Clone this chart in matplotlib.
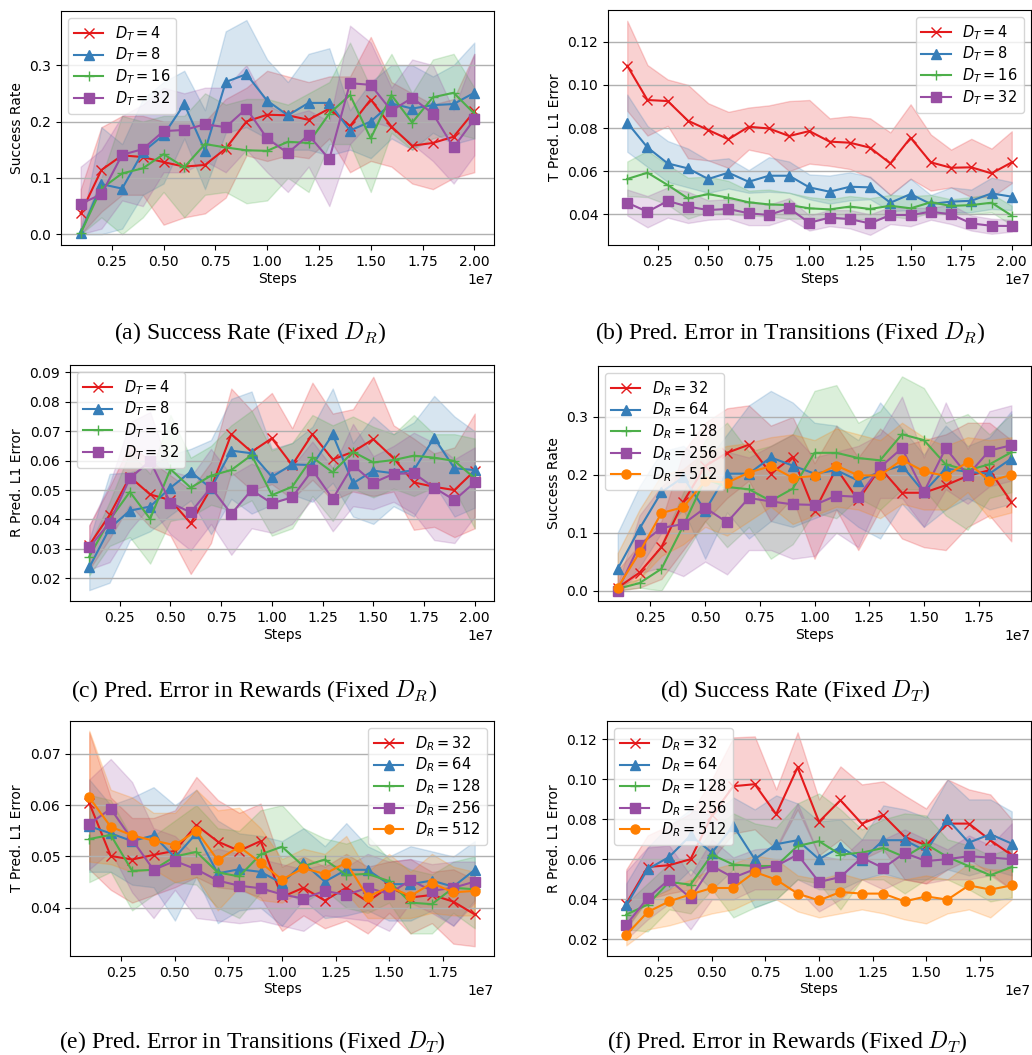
import numpy as np
import matplotlib
matplotlib.use('Agg')
import matplotlib.pyplot as plt
from matplotlib.ticker import MultipleLocator

# x values (steps)
steps20 = [i * 1e6 for i in range(1, 21)]
steps19 = [i * 1e6 for i in range(1, 20)]

dt_labels = ['$D_T = 4$', '$D_T = 8$', '$D_T = 16$', '$D_T = 32$']
dr_labels = ['$D_R = 32$', '$D_R = 64$', '$D_R = 128$', '$D_R = 256$', '$D_R = 512$']

# (a) success rate, fixed D_R
a_mean = [
    [0.037, 0.114, 0.14, 0.137, 0.128, 0.12, 0.123, 0.152, 0.2, 0.212, 0.211, 0.203, 0.223, 0.192, 0.239, 0.191, 0.157, 0.162, 0.173, 0.218],
    [0.002, 0.089, 0.081, 0.146, 0.176, 0.231, 0.148, 0.27, 0.284, 0.237, 0.211, 0.233, 0.233, 0.184, 0.2, 0.232, 0.223, 0.229, 0.231, 0.251],
    [0.002, 0.081, 0.108, 0.117, 0.142, 0.119, 0.16, 0.154, 0.149, 0.148, 0.164, 0.162, 0.214, 0.247, 0.17, 0.247, 0.198, 0.243, 0.251, 0.214],
    [0.054, 0.071, 0.141, 0.151, 0.183, 0.185, 0.195, 0.19, 0.223, 0.17, 0.144, 0.176, 0.133, 0.268, 0.265, 0.219, 0.242, 0.214, 0.154, 0.204],
]
a_hi = [
    [0.08, 0.19, 0.21, 0.21, 0.2, 0.2, 0.2, 0.24, 0.26, 0.29, 0.28, 0.27, 0.28, 0.28, 0.35, 0.27, 0.25, 0.23, 0.24, 0.32],
    [0.01, 0.19, 0.16, 0.24, 0.27, 0.29, 0.22, 0.36, 0.38, 0.31, 0.27, 0.32, 0.33, 0.22, 0.27, 0.3, 0.3, 0.28, 0.3, 0.34],
    [0.01, 0.1, 0.21, 0.2, 0.21, 0.21, 0.25, 0.23, 0.24, 0.24, 0.23, 0.25, 0.27, 0.34, 0.26, 0.32, 0.25, 0.31, 0.32, 0.26],
    [0.12, 0.15, 0.21, 0.23, 0.26, 0.25, 0.26, 0.26, 0.3, 0.23, 0.21, 0.22, 0.2, 0.37, 0.34, 0.26, 0.31, 0.3, 0.22, 0.32],
]
a_lo = [
    [0.0, 0.04, 0.07, 0.07, 0.017, 0.03, 0.037, 0.065, 0.14, 0.13, 0.14, 0.135, 0.17, 0.11, 0.13, 0.12, 0.09, 0.08, 0.1, 0.11],
    [0.0, 0.0, 0.01, 0.07, 0.09, 0.17, 0.08, 0.18, 0.19, 0.17, 0.15, 0.15, 0.14, 0.15, 0.135, 0.17, 0.15, 0.18, 0.16, 0.17],
    [0.0, 0.03, 0.0, 0.03, 0.075, 0.03, 0.07, 0.075, 0.055, 0.06, 0.1, 0.075, 0.16, 0.16, 0.075, 0.18, 0.15, 0.17, 0.18, 0.17],
    [0.0, 0.01, 0.06, 0.05, 0.11, 0.11, 0.13, 0.11, 0.15, 0.11, 0.075, 0.12, 0.05, 0.16, 0.2, 0.19, 0.16, 0.13, 0.09, 0.14],
]

# (b) transition prediction error, fixed D_R
b_mean = [
    [0.1089, 0.093, 0.0925, 0.0834, 0.0791, 0.0748, 0.0806, 0.0798, 0.0763, 0.0786, 0.0737, 0.0732, 0.0709, 0.0636, 0.0755, 0.0641, 0.0616, 0.0618, 0.059, 0.0641],
    [0.0825, 0.071, 0.0636, 0.0613, 0.0564, 0.0593, 0.0551, 0.0579, 0.0579, 0.0525, 0.0505, 0.0528, 0.0525, 0.0454, 0.0494, 0.0448, 0.0459, 0.0463, 0.0497, 0.0482],
    [0.0564, 0.0593, 0.0536, 0.0474, 0.0494, 0.0477, 0.0456, 0.0446, 0.0443, 0.0428, 0.0423, 0.0436, 0.0425, 0.044, 0.0428, 0.0456, 0.0439, 0.0443, 0.0454, 0.0394],
    [0.0454, 0.0412, 0.0462, 0.0436, 0.042, 0.0425, 0.0405, 0.0397, 0.0428, 0.0361, 0.0385, 0.0378, 0.0358, 0.0397, 0.0397, 0.0412, 0.04, 0.0358, 0.0347, 0.0346],
]
b_hi = [
    [0.1297, 0.1092, 0.1025, 0.1, 0.0915, 0.0875, 0.0895, 0.0905, 0.0925, 0.093, 0.0845, 0.0855, 0.0845, 0.078, 0.091, 0.077, 0.07, 0.075, 0.0705, 0.0785],
    [0.0955, 0.081, 0.074, 0.0705, 0.065, 0.066, 0.0605, 0.0665, 0.0645, 0.0585, 0.058, 0.0595, 0.0575, 0.049, 0.0565, 0.049, 0.0525, 0.0515, 0.057, 0.055],
    [0.0645, 0.0695, 0.063, 0.057, 0.0575, 0.0555, 0.051, 0.0515, 0.05, 0.048, 0.047, 0.0485, 0.0475, 0.049, 0.0485, 0.049, 0.047, 0.048, 0.0495, 0.044],
    [0.0515, 0.0485, 0.0525, 0.0505, 0.0465, 0.047, 0.0455, 0.0445, 0.0475, 0.0395, 0.042, 0.042, 0.04, 0.0435, 0.043, 0.043, 0.0445, 0.0395, 0.038, 0.0375],
]
b_lo = [
    [0.088, 0.0765, 0.081, 0.066, 0.065, 0.0615, 0.07, 0.068, 0.06, 0.0635, 0.0625, 0.061, 0.057, 0.049, 0.0565, 0.051, 0.0525, 0.048, 0.048, 0.0545],
    [0.069, 0.062, 0.055, 0.0525, 0.05, 0.052, 0.05, 0.0505, 0.05, 0.047, 0.045, 0.0465, 0.047, 0.0415, 0.042, 0.041, 0.041, 0.041, 0.0425, 0.042],
    [0.0485, 0.048, 0.0445, 0.038, 0.041, 0.04, 0.0395, 0.039, 0.038, 0.038, 0.038, 0.038, 0.0375, 0.039, 0.038, 0.041, 0.041, 0.04, 0.041, 0.035],
    [0.0395, 0.034, 0.0385, 0.036, 0.0375, 0.038, 0.035, 0.035, 0.038, 0.0325, 0.0345, 0.0335, 0.0305, 0.0355, 0.0345, 0.0375, 0.0355, 0.0325, 0.031, 0.032],
]

# (c) reward prediction error, fixed D_R
c_mean = [
    [0.0313, 0.0415, 0.0545, 0.0485, 0.0466, 0.0387, 0.0506, 0.069, 0.063, 0.0676, 0.0585, 0.069, 0.0604, 0.063, 0.0673, 0.0608, 0.0526, 0.0511, 0.05, 0.0566],
    [0.0237, 0.037, 0.043, 0.0444, 0.0508, 0.0562, 0.0506, 0.0634, 0.0625, 0.0545, 0.0587, 0.0585, 0.0689, 0.0523, 0.0566, 0.0557, 0.0568, 0.0678, 0.0574, 0.0568],
    [0.0274, 0.0398, 0.0494, 0.0402, 0.0571, 0.0508, 0.0549, 0.0568, 0.0619, 0.0483, 0.0511, 0.0611, 0.056, 0.063, 0.0594, 0.0602, 0.0617, 0.061, 0.0599, 0.054],
    [0.0305, 0.0389, 0.054, 0.0599, 0.0457, 0.0424, 0.0509, 0.0419, 0.05, 0.0455, 0.0475, 0.0568, 0.047, 0.0585, 0.0525, 0.0555, 0.0557, 0.0508, 0.0466, 0.0526],
]
c_hi = [
    [0.038, 0.051, 0.0655, 0.06, 0.055, 0.05, 0.0595, 0.0845, 0.077, 0.083, 0.071, 0.0865, 0.076, 0.0775, 0.0885, 0.072, 0.0675, 0.0625, 0.0645, 0.076],
    [0.033, 0.0555, 0.056, 0.058, 0.062, 0.064, 0.067, 0.081, 0.0835, 0.064, 0.066, 0.0715, 0.0845, 0.066, 0.075, 0.069, 0.073, 0.082, 0.075, 0.07],
    [0.031, 0.046, 0.063, 0.0555, 0.0755, 0.061, 0.065, 0.072, 0.077, 0.0635, 0.066, 0.0755, 0.072, 0.075, 0.0715, 0.069, 0.0755, 0.069, 0.069, 0.0675],
    [0.038, 0.052, 0.073, 0.0765, 0.0565, 0.0545, 0.064, 0.055, 0.059, 0.056, 0.058, 0.0665, 0.0575, 0.0725, 0.0615, 0.065, 0.0695, 0.066, 0.0605, 0.0645],
]
c_lo = [
    [0.023, 0.0335, 0.045, 0.0375, 0.0345, 0.0215, 0.032, 0.056, 0.05, 0.052, 0.047, 0.0535, 0.0465, 0.0495, 0.048, 0.0495, 0.0365, 0.0375, 0.034, 0.037],
    [0.016, 0.0185, 0.033, 0.036, 0.0415, 0.0465, 0.035, 0.047, 0.042, 0.045, 0.0485, 0.046, 0.0525, 0.041, 0.0385, 0.0445, 0.041, 0.052, 0.041, 0.044],
    [0.021, 0.031, 0.034, 0.025, 0.0395, 0.041, 0.045, 0.043, 0.0465, 0.0345, 0.037, 0.048, 0.0395, 0.0505, 0.0475, 0.0505, 0.048, 0.051, 0.05, 0.037],
    [0.023, 0.0255, 0.0365, 0.0445, 0.035, 0.0295, 0.0385, 0.028, 0.037, 0.0355, 0.0385, 0.047, 0.036, 0.0445, 0.0435, 0.046, 0.042, 0.033, 0.032, 0.041],
]

# (d) success rate, fixed D_T
d_mean = [
    [0.005, 0.031, 0.075, 0.153, 0.215, 0.238, 0.252, 0.202, 0.231, 0.137, 0.211, 0.156, 0.212, 0.169, 0.169, 0.182, 0.198, 0.208, 0.153],
    [0.0375, 0.107, 0.17, 0.196, 0.138, 0.202, 0.202, 0.23, 0.216, 0.202, 0.208, 0.19, 0.205, 0.216, 0.17, 0.211, 0.205, 0.202, 0.228],
    [0.003, 0.013, 0.0375, 0.112, 0.193, 0.179, 0.175, 0.155, 0.176, 0.238, 0.238, 0.229, 0.225, 0.27, 0.26, 0.218, 0.208, 0.218, 0.239],
    [0.0, 0.079, 0.108, 0.115, 0.143, 0.118, 0.16, 0.154, 0.149, 0.148, 0.164, 0.162, 0.213, 0.246, 0.17, 0.246, 0.199, 0.242, 0.251],
    [0.005, 0.066, 0.134, 0.144, 0.19, 0.186, 0.204, 0.215, 0.195, 0.198, 0.216, 0.199, 0.199, 0.226, 0.206, 0.198, 0.222, 0.189, 0.2],
]
d_hi = [
    [0.035, 0.08, 0.12, 0.24, 0.29, 0.315, 0.32, 0.285, 0.3, 0.22, 0.285, 0.23, 0.28, 0.25, 0.26, 0.27, 0.29, 0.29, 0.26],
    [0.1, 0.18, 0.24, 0.25, 0.22, 0.27, 0.32, 0.345, 0.325, 0.29, 0.285, 0.26, 0.325, 0.28, 0.235, 0.285, 0.25, 0.265, 0.31],
    [0.01, 0.02, 0.08, 0.17, 0.26, 0.29, 0.24, 0.25, 0.27, 0.345, 0.355, 0.29, 0.31, 0.37, 0.35, 0.29, 0.305, 0.27, 0.305],
    [0.01, 0.13, 0.18, 0.21, 0.24, 0.24, 0.23, 0.25, 0.27, 0.23, 0.24, 0.25, 0.27, 0.335, 0.23, 0.325, 0.245, 0.31, 0.32],
    [0.065, 0.14, 0.2, 0.21, 0.24, 0.25, 0.255, 0.265, 0.27, 0.26, 0.28, 0.27, 0.26, 0.29, 0.265, 0.25, 0.265, 0.26, 0.265],
]
d_lo = [
    [0.0, 0.005, 0.02, 0.07, 0.12, 0.16, 0.19, 0.12, 0.16, 0.055, 0.14, 0.07, 0.14, 0.09, 0.075, 0.07, 0.11, 0.13, 0.085],
    [0.0, 0.04, 0.1, 0.14, 0.055, 0.135, 0.09, 0.12, 0.11, 0.125, 0.14, 0.11, 0.09, 0.15, 0.11, 0.14, 0.16, 0.14, 0.15],
    [0.0, 0.005, 0.0, 0.06, 0.12, 0.075, 0.11, 0.055, 0.08, 0.135, 0.125, 0.16, 0.14, 0.175, 0.175, 0.13, 0.105, 0.16, 0.17],
    [0.0, 0.03, 0.04, 0.025, 0.05, 0.028, 0.07, 0.07, 0.055, 0.06, 0.1, 0.075, 0.16, 0.16, 0.11, 0.175, 0.15, 0.18, 0.19],
    [0.0, 0.02, 0.06, 0.08, 0.11, 0.095, 0.12, 0.145, 0.115, 0.13, 0.145, 0.14, 0.125, 0.15, 0.14, 0.14, 0.17, 0.125, 0.135],
]

# (e) transition prediction error, fixed D_T
e_mean = [
    [0.0604, 0.0501, 0.0494, 0.0503, 0.0511, 0.0561, 0.0529, 0.0511, 0.053, 0.0421, 0.0439, 0.0414, 0.0439, 0.0412, 0.0441, 0.042, 0.0425, 0.0412, 0.0387],
    [0.0559, 0.0545, 0.053, 0.0541, 0.0498, 0.0545, 0.0467, 0.0475, 0.047, 0.0448, 0.0487, 0.0451, 0.0474, 0.0474, 0.0446, 0.0446, 0.0453, 0.0441, 0.0474],
    [0.0534, 0.0542, 0.0472, 0.0474, 0.05, 0.0509, 0.0469, 0.0461, 0.0504, 0.0519, 0.0481, 0.0494, 0.0464, 0.0466, 0.0452, 0.041, 0.0407, 0.0439, 0.0436],
    [0.0563, 0.0593, 0.0533, 0.0474, 0.0491, 0.0475, 0.0453, 0.0443, 0.0438, 0.0426, 0.0418, 0.0433, 0.0425, 0.0439, 0.0427, 0.0454, 0.0433, 0.0439, 0.0451],
    [0.0615, 0.0558, 0.0541, 0.0531, 0.0522, 0.055, 0.0493, 0.0519, 0.0488, 0.0455, 0.0477, 0.0466, 0.0488, 0.0421, 0.0441, 0.0423, 0.0448, 0.043, 0.0433],
]
e_hi = [
    [0.0742, 0.0615, 0.0575, 0.0575, 0.059, 0.0655, 0.061, 0.0585, 0.0603, 0.048, 0.05, 0.048, 0.0505, 0.048, 0.049, 0.0495, 0.047, 0.0475, 0.0455],
    [0.065, 0.06, 0.0615, 0.0635, 0.06, 0.063, 0.057, 0.0545, 0.054, 0.053, 0.0555, 0.052, 0.0565, 0.052, 0.05, 0.052, 0.051, 0.05, 0.053],
    [0.062, 0.061, 0.0535, 0.054, 0.057, 0.06, 0.0555, 0.055, 0.059, 0.06, 0.0555, 0.0535, 0.0525, 0.054, 0.0495, 0.0475, 0.0465, 0.049, 0.05],
    [0.065, 0.069, 0.0645, 0.0555, 0.054, 0.05, 0.0515, 0.0505, 0.0495, 0.0485, 0.0475, 0.0485, 0.048, 0.0505, 0.049, 0.0495, 0.0485, 0.049, 0.049],
    [0.0745, 0.063, 0.0615, 0.0585, 0.0585, 0.063, 0.059, 0.0595, 0.0555, 0.0495, 0.0515, 0.0505, 0.054, 0.047, 0.0505, 0.047, 0.0505, 0.048, 0.047],
]
e_lo = [
    [0.0475, 0.0435, 0.041, 0.0425, 0.044, 0.046, 0.044, 0.0435, 0.042, 0.0355, 0.0385, 0.036, 0.0375, 0.035, 0.039, 0.035, 0.037, 0.033, 0.0325],
    [0.047, 0.047, 0.0445, 0.044, 0.0375, 0.046, 0.037, 0.0395, 0.04, 0.0365, 0.0415, 0.038, 0.0385, 0.0395, 0.0375, 0.0375, 0.0395, 0.0365, 0.0415],
    [0.045, 0.047, 0.0395, 0.0425, 0.045, 0.0445, 0.04, 0.038, 0.043, 0.0435, 0.041, 0.0435, 0.04, 0.039, 0.041, 0.035, 0.035, 0.039, 0.036],
    [0.0475, 0.051, 0.043, 0.038, 0.0435, 0.038, 0.0375, 0.037, 0.0375, 0.0365, 0.0355, 0.0385, 0.038, 0.0375, 0.0355, 0.041, 0.039, 0.0365, 0.041],
    [0.049, 0.0485, 0.047, 0.0475, 0.045, 0.046, 0.0395, 0.044, 0.0415, 0.041, 0.0435, 0.0425, 0.043, 0.038, 0.038, 0.038, 0.039, 0.0385, 0.0385],
]

# (f) reward prediction error, fixed D_T
f_mean = [
    [0.0379, 0.0562, 0.0571, 0.0601, 0.082, 0.0966, 0.0976, 0.0826, 0.106, 0.0788, 0.0896, 0.0779, 0.0821, 0.0713, 0.0671, 0.0779, 0.0779, 0.0696, 0.0621],
    [0.037, 0.0551, 0.0612, 0.072, 0.0634, 0.0768, 0.0601, 0.0676, 0.0696, 0.0601, 0.0662, 0.0596, 0.0696, 0.0696, 0.0642, 0.0801, 0.0684, 0.0726, 0.0679],
    [0.0324, 0.0374, 0.0487, 0.0474, 0.0624, 0.0574, 0.0567, 0.0567, 0.0667, 0.0691, 0.0624, 0.0634, 0.0657, 0.0612, 0.0676, 0.0612, 0.0566, 0.0521, 0.0562],
    [0.0273, 0.0407, 0.0499, 0.0407, 0.0567, 0.0509, 0.0551, 0.0567, 0.0624, 0.0487, 0.0512, 0.0609, 0.0557, 0.0632, 0.0592, 0.0601, 0.0616, 0.0609, 0.0601],
    [0.0223, 0.0337, 0.039, 0.0425, 0.0457, 0.0457, 0.0537, 0.0499, 0.0429, 0.0395, 0.0437, 0.0429, 0.0429, 0.039, 0.0415, 0.0399, 0.047, 0.0449, 0.047],
]
f_hi = [
    [0.055, 0.072, 0.077, 0.083, 0.1, 0.121, 0.1215, 0.095, 0.1235, 0.09, 0.1065, 0.0975, 0.099, 0.092, 0.0855, 0.1, 0.095, 0.0925, 0.08],
    [0.048, 0.066, 0.077, 0.085, 0.082, 0.091, 0.085, 0.092, 0.088, 0.079, 0.08, 0.07, 0.087, 0.085, 0.081, 0.1, 0.09, 0.09, 0.084],
    [0.038, 0.048, 0.058, 0.06, 0.075, 0.083, 0.078, 0.076, 0.088, 0.093, 0.085, 0.075, 0.08, 0.083, 0.082, 0.07, 0.067, 0.062, 0.066],
    [0.054, 0.066, 0.067, 0.052, 0.07, 0.061, 0.065, 0.066, 0.088, 0.062, 0.06, 0.07, 0.07, 0.075, 0.07, 0.065, 0.072, 0.067, 0.078],
    [0.028, 0.04, 0.045, 0.05, 0.055, 0.058, 0.062, 0.06, 0.052, 0.05, 0.053, 0.05, 0.052, 0.05, 0.052, 0.05, 0.058, 0.055, 0.055],
]
f_lo = [
    [0.026, 0.04, 0.043, 0.045, 0.06, 0.073, 0.075, 0.065, 0.085, 0.062, 0.07, 0.06, 0.065, 0.05, 0.048, 0.055, 0.06, 0.053, 0.045],
    [0.025, 0.04, 0.045, 0.055, 0.045, 0.055, 0.036, 0.04, 0.05, 0.045, 0.045, 0.05, 0.053, 0.05, 0.05, 0.055, 0.052, 0.055, 0.052],
    [0.025, 0.024, 0.035, 0.033, 0.045, 0.031, 0.036, 0.04, 0.05, 0.048, 0.035, 0.05, 0.05, 0.043, 0.05, 0.05, 0.045, 0.039, 0.041],
    [0.02, 0.03, 0.038, 0.025, 0.04, 0.04, 0.045, 0.045, 0.045, 0.034, 0.04, 0.05, 0.045, 0.05, 0.048, 0.05, 0.05, 0.052, 0.045],
    [0.017, 0.025, 0.027, 0.03, 0.033, 0.035, 0.04, 0.04, 0.034, 0.031, 0.033, 0.035, 0.033, 0.03, 0.028, 0.033, 0.035, 0.031, 0.04],
]

colors = ['#e41a1c', '#377eb8', '#4daf4a', '#984ea3', '#ff7f00']
markers = ['x', '^', '+', 's', 'o']

W, H = 1032, 1055
fig = plt.figure(figsize=(W / 100, H / 100), dpi=100)


def panel(box, x, means, his, los, labels, ylabel, ylim, legend_loc, ystep=None):
    # box given in pixels: left, top, right, bottom
    l, t, r, b = box
    ax = fig.add_axes([l / W, 1 - b / H, (r - l) / W, (b - t) / H])
    for i in range(len(means)):
        ax.fill_between(x, los[i], his[i], color=colors[i], alpha=0.2, linewidth=1)
        ax.plot(x, means[i], color=colors[i], marker=markers[i], label=labels[i], markersize=6.5, linewidth=1.5)
    ax.grid(axis='y', color='#b0b0b0', linewidth=1)
    ax.set_ylim(ylim)
    if ystep:
        ax.yaxis.set_major_locator(MultipleLocator(ystep))
    ax.set_xlabel('Steps', labelpad=2)
    ax.set_ylabel(ylabel)
    ax.legend(loc=legend_loc, fontsize=10.5, labelspacing=0.2)
    return ax


panel((61, 11, 494, 245), steps20, a_mean, a_hi, a_lo, dt_labels, 'Success Rate', (-0.019, 0.396), 'upper left')
panel((608, 10, 1031, 245), steps20, b_mean, b_hi, b_lo, dt_labels, 'T Pred. L1 Error', (0.0258, 0.1347), 'upper right')
panel((70, 365, 494, 601), steps20, c_mean, c_hi, c_lo, dt_labels, 'R Pred. L1 Error', (0.0123, 0.0925), 'upper left', 0.01)
panel((598, 366, 1031, 601), steps19, d_mean, d_hi, d_lo, dr_labels, 'Success Rate', (-0.018, 0.388), 'upper left')
panel((70, 721, 494, 956), steps19, e_mean, e_hi, e_lo, dr_labels, 'T Pred. L1 Error', (0.0306, 0.0764), 'upper right')
panel((607, 721, 1031, 956), steps19, f_mean, f_hi, f_lo, dr_labels, 'R Pred. L1 Error', (0.0117, 0.1292), 'upper left')

captions = [
    (250, 339, '(a) Success Rate (Fixed $D_R$)'),
    (790, 339, '(b) Pred. Error in Transitions (Fixed $D_R$)'),
    (254, 697, '(c) Pred. Error in Rewards (Fixed $D_R$)'),
    (795, 697, '(d) Success Rate (Fixed $D_T$)'),
    (252, 1048, '(e) Pred. Error in Transitions (Fixed $D_T$)'),
    (787, 1048, '(f) Pred. Error in Rewards (Fixed $D_T$)'),
]
for cx, cy, txt in captions:
    fig.text(cx / W, 1 - cy / H, txt, ha='center', va='baseline', fontsize=17,
             family='Liberation Serif', math_fontfamily='cm')

fig.savefig('out.png', dpi=100)
